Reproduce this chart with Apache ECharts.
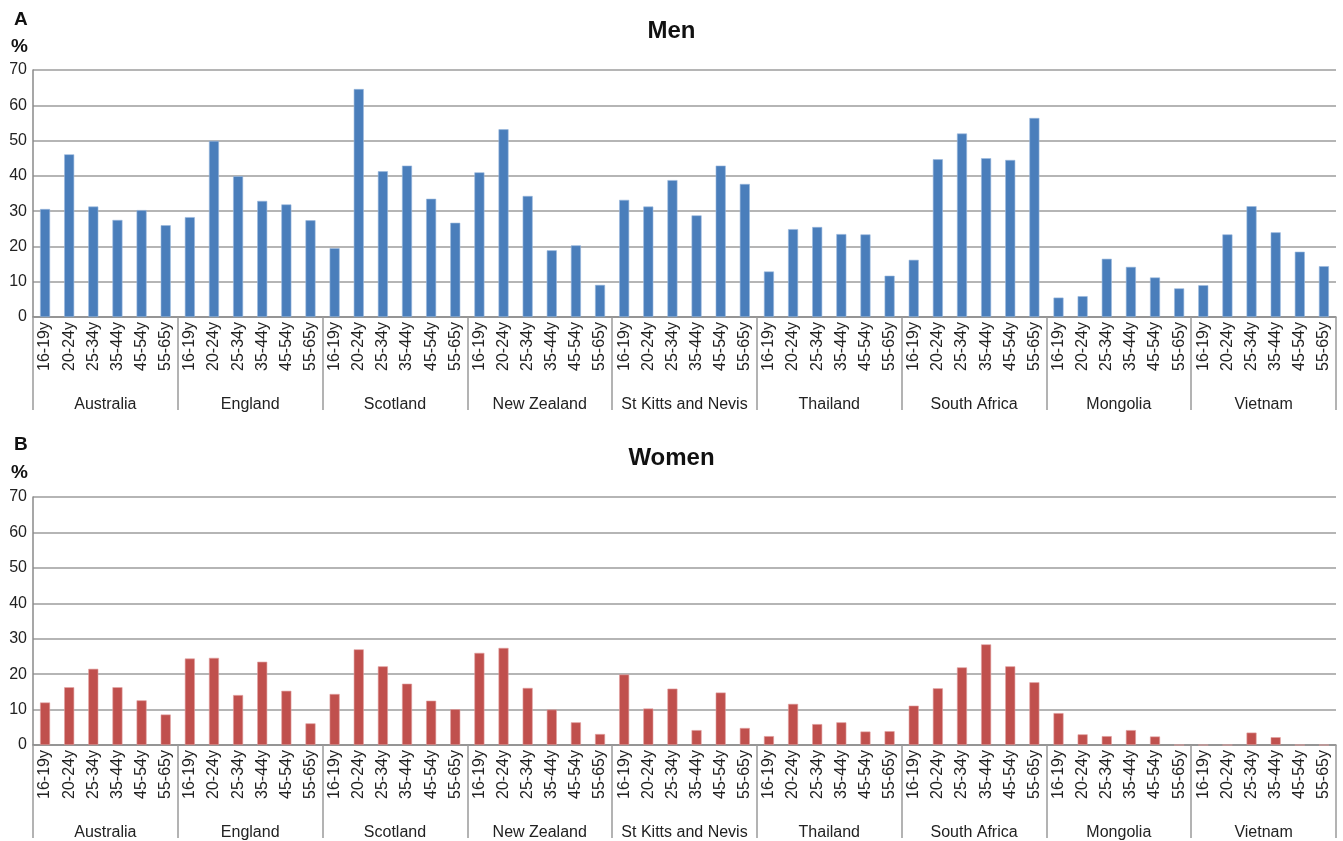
<!DOCTYPE html>
<html>
<head>
<meta charset="utf-8">
<script src="https://cdn.jsdelivr.net/npm/echarts@6/dist/echarts.min.js"></script>
<style>
html,body{margin:0;padding:0;background:#fff;}
#chart{width:1343px;height:841px;}
</style>
</head>
<body>
<div id="chart"></div>
<script>
const ages = ['16-19y','20-24y','25-34y','35-44y','45-54y','55-65y'];
const countries = ['Australia','England','Scotland','New Zealand','St Kitts and Nevis','Thailand','South Africa','Mongolia','Vietnam'];
const yTicks = [0,10,20,30,40,50,60,70];

// Men (%), 6 age groups per country, in country order
const men = [
  30.6, 46.1, 31.3, 27.5, 30.3, 26.0,   // Australia
  28.3, 49.9, 39.9, 32.9, 31.9, 27.4,   // England
  19.5, 64.6, 41.3, 42.9, 33.5, 26.7,   // Scotland
  41.0, 53.2, 34.3, 18.9, 20.3, 9.1,    // New Zealand
  33.2, 31.3, 38.8, 28.8, 42.9, 37.7,   // St Kitts and Nevis
  12.9, 24.9, 25.5, 23.5, 23.4, 11.7,   // Thailand
  16.2, 44.7, 52.0, 45.0, 44.5, 56.4,   // South Africa
  5.5, 5.9, 16.5, 14.2, 11.2, 8.1,      // Mongolia
  9.0, 23.4, 31.4, 24.0, 18.5, 14.4     // Vietnam
];
// Women (%)
const women = [
  12.0, 16.3, 21.5, 16.3, 12.6, 8.6,    // Australia
  24.4, 24.6, 14.1, 23.5, 15.3, 6.1,    // England
  14.4, 27.0, 22.2, 17.3, 12.5, 10.1,   // Scotland
  26.0, 27.4, 16.1, 10.0, 6.4, 3.1,     // New Zealand
  19.9, 10.3, 15.9, 4.2, 14.8, 4.8,     // St Kitts and Nevis
  2.5, 11.6, 5.9, 6.4, 3.8, 3.9,        // Thailand
  11.1, 16.0, 21.9, 28.4, 22.2, 17.7,   // South Africa
  9.0, 3.0, 2.5, 4.2, 2.4, 0,           // Mongolia
  0, 0, 3.5, 2.2, 0, 0                  // Vietnam
];

const cats = countries.flatMap(() => ages);
const FONT = '"Liberation Sans", Arial, Helvetica, sans-serif';
const GRID_COLOR = '#9c9c9c';
const TXT = '#222';

function makeX(gi) {
  return [
    {
      gridIndex: gi, type: 'category', data: cats, position: 'bottom',
      axisLine: {show: true, lineStyle: {color: '#8a8a8a', width: 1.5}},
      axisTick: {show: false},
      axisLabel: {interval: 0, rotate: 90, fontSize: 16, color: TXT, fontFamily: FONT, margin: 5}
    },
    {
      gridIndex: gi, type: 'category', data: countries, position: 'bottom',
      axisLine: {show: false},
      axisTick: {show: true, length: 93, lineStyle: {color: '#9a9a9a', width: 1.5}},
      axisLabel: {interval: 0, fontSize: 16, color: TXT, fontFamily: FONT, margin: 80}
    }
  ];
}
function makeY(gi) {
  return {
    gridIndex: gi, type: 'value', min: yTicks[0], max: yTicks[yTicks.length-1], interval: 10,
    axisLine: {show: true, lineStyle: {color: '#8a8a8a', width: 1.5}},
    axisTick: {show: false},
    axisLabel: {fontSize: 16, color: TXT, fontFamily: FONT, margin: 6},
    splitLine: {show: true, lineStyle: {color: GRID_COLOR, width: 1.5}}
  };
}

const chart = echarts.init(document.getElementById('chart'));
chart.setOption({
  animation: false,
  backgroundColor: '#fff',
  title: [
    {text: 'Men', left: 'center', top: 14, textStyle: {fontSize: 24, fontWeight: 'bold', color: '#111', fontFamily: FONT}},
    {text: 'Women', left: 'center', top: 441, textStyle: {fontSize: 24, fontWeight: 'bold', color: '#111', fontFamily: FONT}},
    {text: 'A', left: 9, top: 5, textStyle: {fontSize: 19, fontWeight: 'bold', color: '#111', fontFamily: FONT}},
    {text: '%', left: 6, top: 32, textStyle: {fontSize: 19, fontWeight: 'bold', color: '#111', fontFamily: FONT}},
    {text: 'B', left: 9, top: 430, textStyle: {fontSize: 19, fontWeight: 'bold', color: '#111', fontFamily: FONT}},
    {text: '%', left: 6, top: 458, textStyle: {fontSize: 19, fontWeight: 'bold', color: '#111', fontFamily: FONT}}
  ],
  grid: [
    {left: 33, right: 7, top: 70, height: 247},
    {left: 33, right: 7, top: 497, height: 249}
  ],
  xAxis: [...makeX(0), ...makeX(1)],
  yAxis: [makeY(0), makeY(1)],
  series: [
    {type: 'bar', xAxisIndex: 0, yAxisIndex: 0, data: men, barWidth: 10,
     itemStyle: {color: '#4a7ebb', borderColor: '#9ab8de', borderWidth: 0.6}},
    {type: 'bar', xAxisIndex: 2, yAxisIndex: 1, data: women, barWidth: 10,
     itemStyle: {color: '#c0504d', borderColor: '#e0a0a0', borderWidth: 0.6}}
  ]
});
</script>
</body>
</html>
